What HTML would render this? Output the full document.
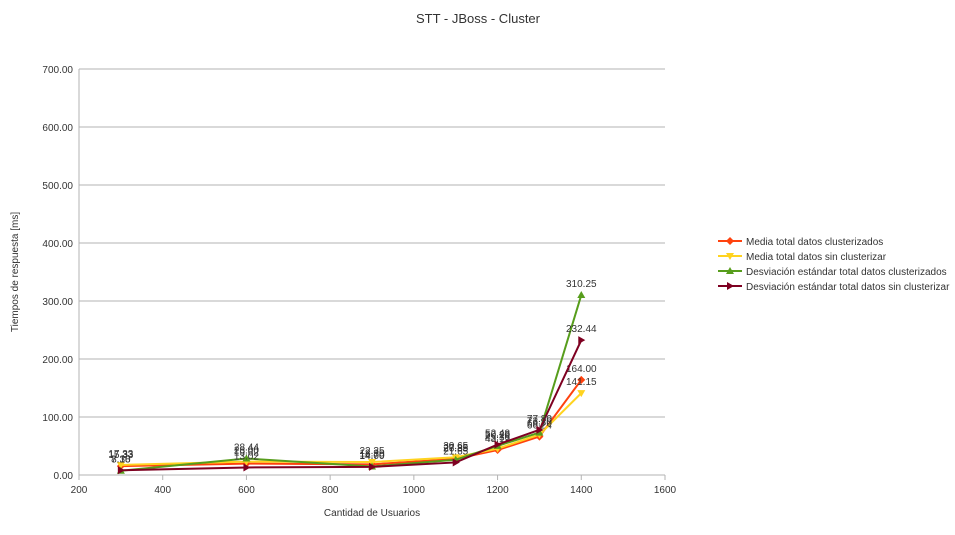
<!DOCTYPE html>
<html><head><meta charset="utf-8"><style>
body{margin:0;background:#fff;font-family:"Liberation Sans",sans-serif}
svg text{font-family:"Liberation Sans",sans-serif}
</style></head><body>
<svg width="955" height="530" id="c">
<text x="478" y="23" text-anchor="middle" font-size="13" fill="#333">STT - JBoss - Cluster</text>
<text x="372" y="516" text-anchor="middle" font-size="10" fill="#333">Cantidad de Usuarios</text>
<text transform="translate(18,272) rotate(-90)" text-anchor="middle" font-size="10" fill="#333">Tiempos de respuesta [ms]</text>
<g id="grid"></g><g id="series"></g><g id="legend"></g>
</svg>
<script>
const xValues=[300,600,900,1100,1200,1300,1400];
const seriesNames=["Media total datos clusterizados","Media total datos sin clusterizar","Desviación estándar total datos clusterizados","Desviación estándar total datos sin clusterizar"];
const mediaClust=[15.33,19.62,18.30,27.85,43.12,66.24,164.00];
const mediaSin=[17.33,23.00,22.35,30.65,45.36,69.70,141.15];
const desvClust=[7.38,28.44,14.70,26.35,50.20,73.10,310.25];
const desvSin=[8.10,13.02,14.00,21.65,52.48,77.80,232.44];
const yTicks=[0,100,200,300,400,500,600,700];
const xTicks=[200,400,600,800,1000,1200,1400,1600];
const colors=["#ff420e","#ffd320","#579d1c","#7e0021"];
const NS="http://www.w3.org/2000/svg";
const X=v=>79+(v-200)*(586/1400);
const Y=v=>475-v*(406/700);
function mk(t,a,p){const e=document.createElementNS(NS,t);for(const k in a)e.setAttribute(k,a[k]);p.appendChild(e);return e;}
const g=document.getElementById('grid');
yTicks.forEach(t=>{
 const l=mk('line',{x1:79,x2:665,y1:Y(t),y2:Y(t),stroke:'#b3b3b3'},g);
 
 
 const tx=mk('text',{x:73,y:Y(t)+4,'text-anchor':'end','font-size':10,fill:'#333'},g);tx.textContent=t.toFixed(2);
 
 
});
mk('line',{x1:79,x2:79,y1:69,y2:475,stroke:'#b3b3b3'},g);
xTicks.forEach(t=>{
 mk('line',{x1:X(t),x2:X(t),y1:475,y2:480,stroke:'#b3b3b3'},g);
 const tx=mk('text',{x:X(t),y:493,'text-anchor':'middle','font-size':10,fill:'#333'},g);tx.textContent=t;
 
 
});
function marker(i,x,y,p){
 if(i==0)return mk('path',{d:`M${x} ${y-4}L${x+4} ${y}L${x} ${y+4}L${x-4} ${y}Z`,fill:colors[i]},p);
 if(i==1)return mk('path',{d:`M${x-4} ${y-3}L${x+4} ${y-3}L${x} ${y+4}Z`,fill:colors[i]},p);
 if(i==2)return mk('path',{d:`M${x-4} ${y+3}L${x+4} ${y+3}L${x} ${y-4}Z`,fill:colors[i]},p);
 return mk('path',{d:`M${x-3} ${y-4}L${x+4} ${y}L${x-3} ${y+4}Z`,fill:colors[i]},p);
}
const s=document.getElementById('series');
[mediaClust,mediaSin,desvClust,desvSin].forEach((arr,i)=>{
 const sg=mk('g',{},s);
 
 
 mk('polyline',{points:arr.map((v,j)=>X(xValues[j])+','+Y(v)).join(' '),fill:'none',stroke:colors[i],'stroke-width':2},sg);
 arr.forEach((v,j)=>{
  const m=marker(i,X(xValues[j]),Y(v),sg);
  
  
  const t=mk('text',{x:X(xValues[j]),y:Y(v)-8,'text-anchor':'middle','font-size':10,fill:'#333'},sg);t.textContent=v.toFixed(2);
  
  
 });
});
const lg=document.getElementById('legend');
seriesNames.forEach((n,i)=>{
 const y=241+i*15;
 const e=mk('g',{},lg);
 
 
 mk('line',{x1:718,x2:742,y1:y,y2:y,stroke:colors[i],'stroke-width':2},e);
 marker(i,730,y,e);
 const t=mk('text',{x:746,y:y+4,'font-size':10,fill:'#333'},e);t.textContent=n;
});
</script>
</body></html>
